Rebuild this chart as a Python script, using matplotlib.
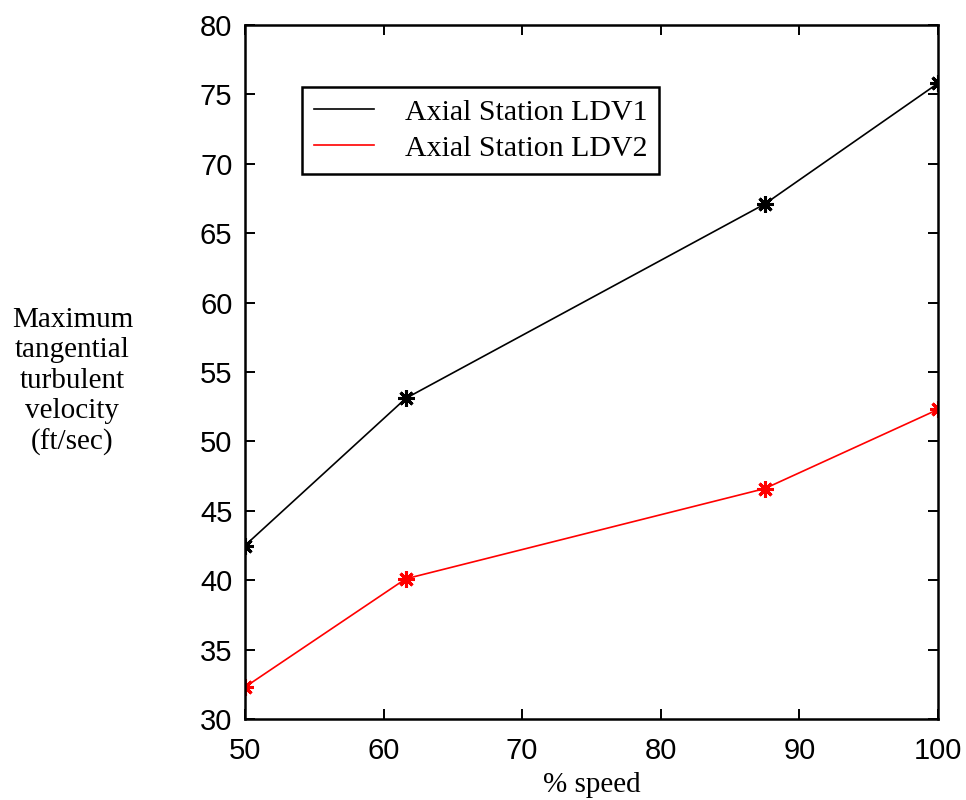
import matplotlib.pyplot as plt

speed = [50, 61.6, 87.5, 100]
ldv1 = [42.5, 53.1, 67.1, 75.8]
ldv2 = [32.3, 40.1, 46.6, 52.3]

xticks = [50, 60, 70, 80, 90, 100]
yticks = [30, 35, 40, 45, 50, 55, 60, 65, 70, 75, 80]

fig = plt.figure(figsize=(9.66, 8), dpi=100)
ax = fig.add_axes([0.2536, 0.10125, 0.7174, 0.8675])

ax.plot(speed, ldv1, color='black', lw=1.2, label='Axial Station LDV1')
ax.plot(speed, ldv2, color='red', lw=1.2, label='Axial Station LDV2')
ax.plot(speed, ldv1, ls='none', marker=(8, 2, 0), ms=12, mew=2.2, color='black')
ax.plot(speed, ldv2, ls='none', marker=(8, 2, 0), ms=12, mew=2.2, color='red')

ax.set_xlim(50, 100)
ax.set_ylim(30, 80)
ax.set_xticks(xticks)
ax.set_yticks(yticks)
ax.tick_params(direction='in', top=True, right=True, length=7, width=1.4,
               labelsize=21)
ax.tick_params(axis='y', pad=9)
ax.tick_params(axis='x', pad=13)
for lab in ax.get_xticklabels() + ax.get_yticklabels():
    lab.set_family('Liberation Sans')
for s in ax.spines.values():
    s.set_linewidth(1.8)

ax.set_xlabel('% speed', fontsize=21, family='Liberation Serif', labelpad=5)
fig.text(0.075, 0.523, 'Maximum\ntangential\nturbulent\nvelocity\n(ft/sec)',
         ha='center', va='center', fontsize=21, family='Liberation Serif',
         linespacing=1.22)

leg = ax.legend(loc='upper left', bbox_to_anchor=(0.0823, 0.9107),
                prop={'family': 'Liberation Serif', 'size': 21.5},
                fancybox=False, edgecolor='black', framealpha=1,
                handlelength=2.0, handletextpad=1.05, borderpad=0.4,
                borderaxespad=0, labelspacing=0.3)
leg.get_frame().set_linewidth(1.8)

fig.savefig('out.png', dpi=100)
